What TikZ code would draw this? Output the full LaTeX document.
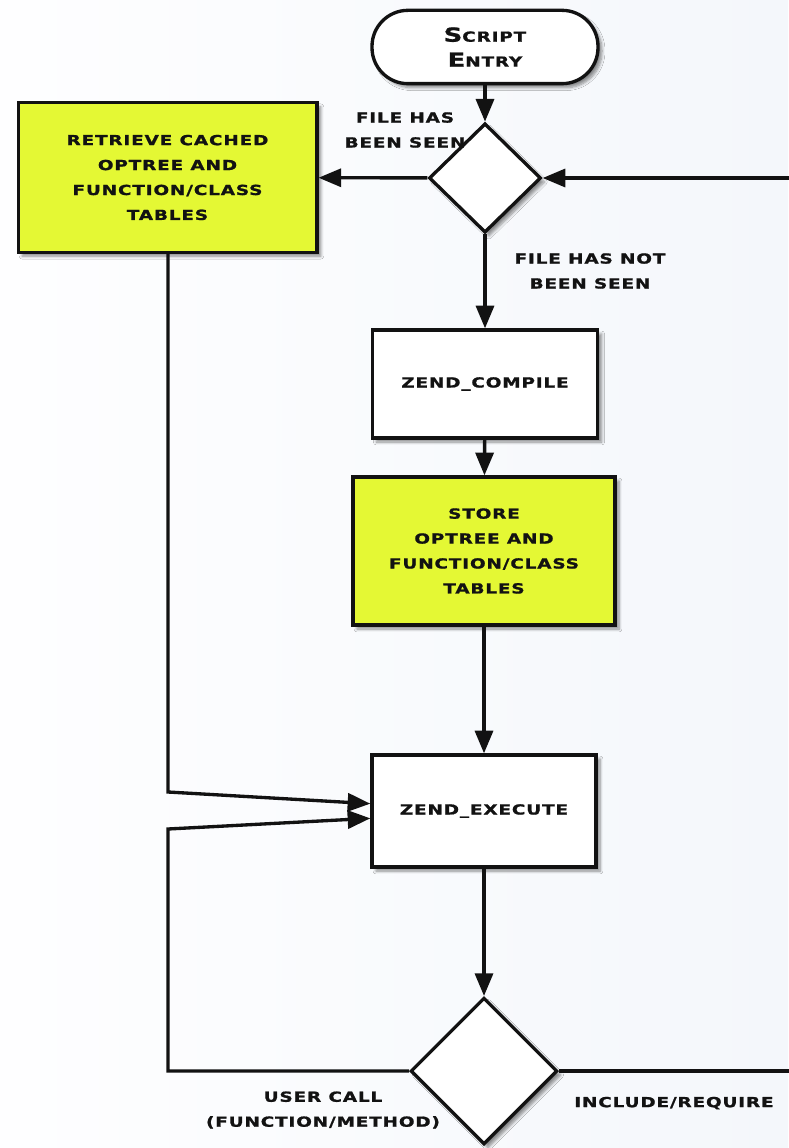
\documentclass[tikz,border=0pt]{standalone}
\usepackage{fontspec}
\setmainfont{DejaVu Sans}[BoldFont={DejaVu Sans Bold}]
\newfontfamily\labelfont{DejaVu Sans Bold}[FakeStretch=1.33,LetterSpace=6,FakeBold=1.2]
\usetikzlibrary{shapes.geometric,arrows.meta,shadows.blur}

\definecolor{boxyellow}{RGB}{228,248,52}
\definecolor{inkblack}{RGB}{18,18,18}
\definecolor{bgleft}{RGB}{254,254,255}
\definecolor{bgright}{RGB}{244,247,251}

% small-caps look: larger first letter
\newcommand{\bigfirst}[2]{{\fontsize{14.5}{15}\selectfont #1}#2}

\tikzset{
  base/.style={draw=inkblack, line width=2.5pt, text=inkblack, align=center,
    font=\labelfont\fontsize{10.4}{18.7}\selectfont, inner sep=0pt,
    blur shadow={shadow xshift=3pt, shadow yshift=-3pt, shadow blur steps=6, shadow opacity=45}},
  procbox/.style={base, rectangle, fill=white},
  cachebox/.style={base, rectangle, fill=boxyellow},
  pill/.style={base, rectangle, fill=white, rounded corners=27pt},
  decision/.style={base, diamond, fill=white, aspect=1},
  flow/.style={draw=inkblack, line width=2.5pt, -{Triangle[length=17pt,width=13.5pt]}},
  plainline/.style={draw=inkblack, line width=2.5pt},
  edgelabel/.style={text=inkblack, align=center,
    font=\labelfont\fontsize{10.4}{18.7}\selectfont, inner sep=0pt}
}

\begin{document}
\begin{tikzpicture}[x=0.75pt,y=-0.75pt]
  % page and background
  \useasboundingbox (0,0) rectangle (788,1148);
  \shade[left color=bgleft, right color=bgright] (0,0) rectangle (788,1148);

  % nodes
  \node[pill, minimum width=169.5pt, minimum height=55pt] (entry) at (485,47)
    {\bigfirst{S}{CRIPT}\\\bigfirst{E}{NTRY}};
  \node[decision, minimum width=84pt, minimum height=82pt] (seen) at (485,178) {};
  \node[cachebox, minimum width=224pt, minimum height=112pt] (retrieve) at (167.5,177.5)
    {RETRIEVE CACHED\\OPTREE AND\\FUNCTION/CLASS\\TABLES};
  \node[procbox, minimum width=169pt, minimum height=81pt] (compile) at (485,384)
    {ZEND\_COMPILE};
  \node[cachebox, minimum width=196.5pt, minimum height=111pt] (store) at (484,551)
    {STORE\\OPTREE AND\\FUNCTION/CLASS\\TABLES};
  \node[procbox, minimum width=168pt, minimum height=84pt] (execute) at (484,811)
    {ZEND\_EXECUTE};
  \node[decision, minimum width=110pt, minimum height=110pt] (call) at (484,1071) {};

  % edge labels
  \node[edgelabel] (lseen) at (405,130) {FILE HAS\\BEEN SEEN};
  \node[edgelabel] (lnotseen) at (590,271) {FILE HAS NOT\\BEEN SEEN};
  \node[edgelabel] (luser) at (323,1110) {USER CALL\\(FUNCTION/METHOD)};
  \node[edgelabel] (linclude) at (674,1103) {INCLUDE/REQUIRE};

  % loose ends leaving the page on the right
  \coordinate (backin) at (795,178);
  \coordinate (inclout) at (795,1071);
  \coordinate (cacheturn) at (168,792);
  \coordinate (callturnA) at (168,1071);
  \coordinate (callturnB) at (168,829);

  % connectors
  \draw[flow] (entry) -- (seen);
  \draw[flow] (seen) -- (retrieve);
  \draw[flow] (backin) -- (seen.east);
  \draw[flow] (seen) -- (compile);
  \draw[flow] (compile) -- (store);
  \draw[flow] (store) -- (execute);
  \draw[flow] (execute) -- (call);
  \draw[flow] (retrieve.south -| cacheturn) -- (cacheturn) -- ([yshift=5.5pt]execute.west);
  \draw[flow] (call.west) -- (callturnA) -- (callturnB) -- ([yshift=-5.5pt]execute.west);
  \draw[plainline] (call.east) -- (inclout);
\end{tikzpicture}
\end{document}
